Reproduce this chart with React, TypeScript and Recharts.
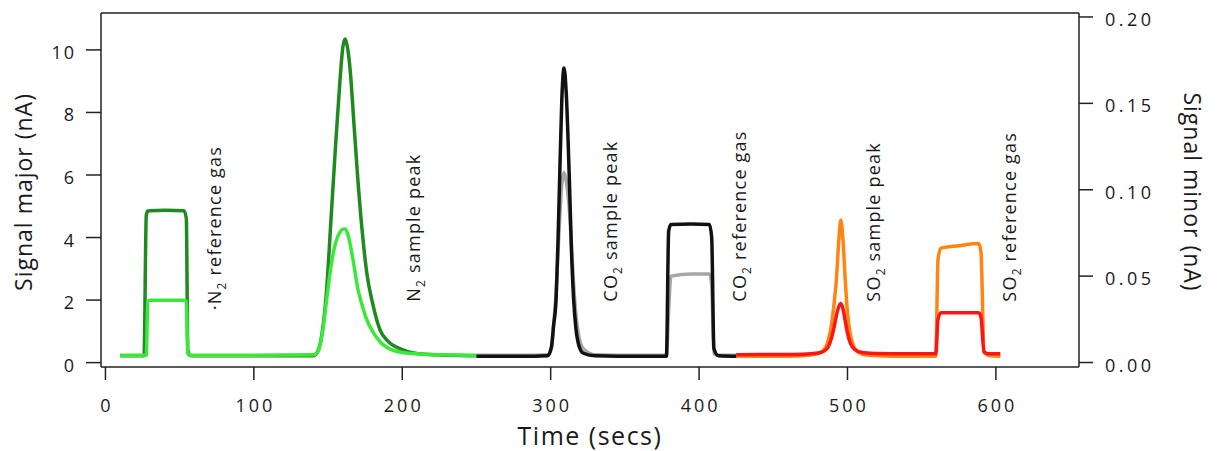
import React from 'react'
import { ComposedChart, Line, Scatter, XAxis, YAxis, Label, ReferenceLine } from 'recharts'

// N2 block: reference gas step, then the sample peak
const n2Time = [10, 26, 27.5, 28.5, 30, 40, 53, 54.5, 55.5, 57, 60, 100, 140, 143, 146, 149, 152, 155, 158, 160, 161.5, 163, 165, 167.5, 170, 173, 176, 180, 185, 190, 200, 215, 250]
const n2Major = [0.22, 0.22, 4.7, 4.85, 4.86, 4.87, 4.86, 4.6, 0.4, 0.23, 0.22, 0.22, 0.22, 0.35, 0.95, 2.3, 4.6, 6.9, 9.0, 10.1, 10.35, 10.1, 9.3, 7.6, 5.9, 4.2, 2.9, 1.9, 1.05, 0.7, 0.42, 0.27, 0.22]
const n2Minor = [0.0042, 0.0042, 0.0042, 0.0355, 0.0361, 0.0361, 0.0361, 0.0355, 0.005, 0.0042, 0.0042, 0.0042, 0.0045, 0.006, 0.016, 0.036, 0.056, 0.069, 0.0755, 0.0772, 0.0773, 0.075, 0.068, 0.056, 0.043, 0.033, 0.025, 0.018, 0.012, 0.0085, 0.0058, 0.0048, 0.0042]

// CO2 block: sample peak, then reference gas step
const co2Time = [250, 280, 298, 300.5, 302, 303.6, 305, 306, 307.5, 309, 310.5, 312.6, 314, 315.5, 317, 319, 322, 330, 360, 378, 379.5, 381, 395, 407, 408.5, 410, 413, 427]
const co2Major = [0.2, 0.2, 0.22, 0.5, 1.2, 2.0, 4.0, 5.8, 8.4, 9.42, 8.6, 5.84, 3.6, 2.0, 1.1, 0.55, 0.3, 0.22, 0.2, 0.2, 4.2, 4.42, 4.43, 4.42, 4.0, 0.45, 0.22, 0.2]
const co2Minor = [0.0042, 0.0042, 0.0045, 0.008, 0.022, 0.04, 0.065, 0.082, 0.103, 0.11, 0.105, 0.088, 0.068, 0.045, 0.028, 0.015, 0.008, 0.0045, 0.0042, 0.0042, 0.03, 0.05, 0.0512, 0.0512, 0.045, 0.005, 0.0042, 0.0042]

// SO2 block: sample peak, then reference gas step
const so2Time = [425, 450, 470, 480, 484, 487, 489.5, 491, 492.5, 494, 495.5, 497, 498.5, 500, 502, 505, 510, 520, 540, 559.5, 561, 563, 575, 588.5, 590, 592, 596, 603]
const so2Major = [0.2, 0.2, 0.22, 0.28, 0.4, 0.7, 1.3, 1.9, 2.64, 3.8, 4.56, 3.9, 2.64, 1.6, 0.9, 0.45, 0.27, 0.22, 0.2, 0.2, 3.3, 3.66, 3.74, 3.81, 3.5, 0.35, 0.22, 0.2]
const so2Minor = [0.0045, 0.0046, 0.0048, 0.0055, 0.0065, 0.009, 0.015, 0.0206, 0.027, 0.032, 0.0342, 0.031, 0.024, 0.017, 0.011, 0.0075, 0.0058, 0.0052, 0.005, 0.005, 0.025, 0.0288, 0.0288, 0.0288, 0.026, 0.006, 0.005, 0.005]

const xTicks = [0, 100, 200, 300, 400, 500, 600]
const majorTicks = [0, 2, 4, 6, 8, 10]
const minorTicks = [0, 0.05, 0.1, 0.15, 0.2]

// rotated peak labels (time, level on the major axis)
const noteTimes = [73.4, 206.9, 340, 427, 517, 609]
const noteLevels = [1.68, 1.95, 1.95, 1.95, 1.95, 1.95]
const noteFormulas = ['·N', 'N', 'CO', 'CO', 'SO', 'SO']
const noteNames = [' reference gas', ' sample peak', ' sample peak', ' reference gas', ' sample peak', ' reference gas']

const X_DOMAIN: [number, number] = [-3, 656]
const MAJOR_DOMAIN: [number, number] = [-0.14, 11.18]
const MINOR_DOMAIN: [number, number] = [-0.0026, 0.2023]

const zip = (t: number[], a: number[], b: number[]) =>
  t.map((v, i) => ({ t: v, major: a[i], minor: b[i] }))

const n2Data = zip(n2Time, n2Major, n2Minor)
const co2Data = zip(co2Time, co2Major, co2Minor)
const so2Data = zip(so2Time, so2Major, so2Minor)
const notes = noteTimes.map((t, i) => ({ t, y: noteLevels[i], formula: noteFormulas[i], name: noteNames[i] }))

const FONT = '"Open Sans", sans-serif'
const INK = '#1a1a1a'
const AXIS = '#222'

const XTick = ({ x, y, payload }: any) => (
  <text x={x} y={y} dx={1.5} dy={32} textAnchor="middle" fontFamily={FONT} fontSize={18} letterSpacing={3} fill={INK}>
    {payload.value}
  </text>
)

const LeftTick = ({ x, y, payload }: any) => (
  <text x={x} y={y} dx={-10} dy={9} textAnchor="end" fontFamily={FONT} fontSize={18} letterSpacing={2} fill={INK}>
    {payload.value}
  </text>
)

const RightTick = ({ x, y, payload }: any) => (
  <text x={x} y={y} dx={12} dy={9} textAnchor="start" fontFamily={FONT} fontSize={18} letterSpacing={3.5} fill={INK}>
    {Number(payload.value).toFixed(2)}
  </text>
)

const Note = ({ cx, cy, payload }: any) => {
  if (cx == null || cy == null) return null
  const bx = cx + 7
  return (
    <text
      x={bx}
      y={cy}
      transform={`rotate(-90 ${bx} ${cy})`}
      fontFamily={FONT}
      fontSize={18}
      letterSpacing={1.2}
      fill={INK}
      style={{ whiteSpace: 'pre' }}
    >
      <tspan>{payload.formula}</tspan>
      <tspan dy={5} fontSize={12}>2</tspan>
      <tspan dy={-5}>{payload.name}</tspan>
    </text>
  )
}

export default function App() {
  return (
    <ComposedChart width={1216} height={443} margin={{ top: 5, right: 0, bottom: 0, left: 0 }}>
      <XAxis
        dataKey="t"
        type="number"
        domain={X_DOMAIN}
        ticks={xTicks}
        allowDataOverflow
        height={84}
        tickSize={13}
        tickMargin={0}
        tick={<XTick />}
        stroke={AXIS}
        strokeWidth={1.5}
      >
        <Label
          content={({ viewBox }: any) => (
            <text
              x={viewBox.x + viewBox.width / 2}
              y={viewBox.y + 78}
              textAnchor="middle"
              fontFamily={FONT}
              fontSize={25}
              letterSpacing={1.5}
              fill={INK}
            >
              Time (secs)
            </text>
          )}
        />
      </XAxis>
      <YAxis
        yAxisId="left"
        type="number"
        domain={MAJOR_DOMAIN}
        ticks={majorTicks}
        allowDataOverflow
        width={93}
        tickSize={15}
        tickMargin={0}
        tick={<LeftTick />}
        stroke={AXIS}
        strokeWidth={1.5}
      >
        <Label
          content={() => (
            <text
              x={24}
              y={184}
              transform="rotate(-90 24 184)"
              textAnchor="middle"
              fontFamily={FONT}
              fontSize={23}
              letterSpacing={1}
              fill={INK}
            >
              Signal major (nA)
            </text>
          )}
        />
      </YAxis>
      <YAxis
        yAxisId="right"
        orientation="right"
        type="number"
        domain={MINOR_DOMAIN}
        ticks={minorTicks}
        allowDataOverflow
        width={145}
        tickSize={14}
        tickMargin={0}
        tick={<RightTick />}
        stroke={AXIS}
        strokeWidth={1.5}
      >
        <Label
          content={() => (
            <text
              x={1176}
              y={184}
              transform="rotate(90 1176 184)"
              textAnchor="middle"
              fontFamily={FONT}
              fontSize={23}
              letterSpacing={1}
              fill={INK}
            >
              Signal minor (nA)
            </text>
          )}
        />
      </YAxis>

      {/* top edge of the plot frame */}
      <ReferenceLine yAxisId="left" y={MAJOR_DOMAIN[1]} stroke={AXIS} strokeWidth={1.5} ifOverflow="visible" />

      <Line data={n2Data} dataKey="major" yAxisId="left" type="monotone" stroke="#1f8a1f" strokeWidth={3.5} dot={false} activeDot={false} isAnimationActive={false} />
      <Line data={n2Data} dataKey="minor" yAxisId="right" type="monotone" stroke="#3ae83a" strokeWidth={3.5} dot={false} activeDot={false} isAnimationActive={false} />
      <Line data={co2Data} dataKey="minor" yAxisId="right" type="monotone" stroke="#a6a6a6" strokeWidth={3.5} dot={false} activeDot={false} isAnimationActive={false} />
      <Line data={co2Data} dataKey="major" yAxisId="left" type="monotone" stroke="#111111" strokeWidth={3.5} dot={false} activeDot={false} isAnimationActive={false} />
      <Line data={so2Data} dataKey="major" yAxisId="left" type="monotone" stroke="#ff8412" strokeWidth={3.5} dot={false} activeDot={false} isAnimationActive={false} />
      <Line data={so2Data} dataKey="minor" yAxisId="right" type="monotone" stroke="#ff1414" strokeWidth={3.5} dot={false} activeDot={false} isAnimationActive={false} />

      <Scatter data={notes} dataKey="y" yAxisId="left" shape={<Note />} isAnimationActive={false} />
    </ComposedChart>
  )
}
